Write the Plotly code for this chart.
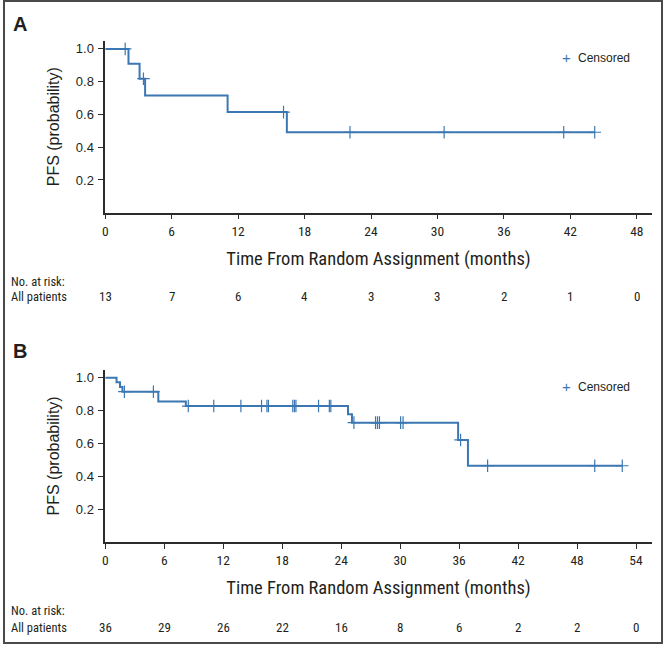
import plotly.graph_objects as go

# ---------------- data ----------------
# Panel A: Kaplan-Meier step vertices (time in months, PFS probability)
a_step_t = [0, 2.1, 3.1, 3.6, 11.05, 16.4, 44.2]
a_step_s = [1.0, 0.909, 0.818, 0.716, 0.614, 0.491, 0.491]
a_cens_t = [1.8, 3.45, 16.1, 22.1, 30.6, 41.4, 44.2]
a_ticks = [0, 6, 12, 18, 24, 30, 36, 42, 48]
a_risk = [13, 7, 6, 4, 3, 3, 2, 1, 0]

# Panel B
b_step_t = [0, 1.15, 1.5, 1.75, 5.4, 8.2, 24.7, 25.1, 35.9, 36.9, 52.6]
b_step_s = [1.0, 0.972, 0.944, 0.915, 0.855, 0.828, 0.778, 0.727, 0.622, 0.465, 0.465]
b_cens_t = [1.95, 4.9, 8.45, 11.04, 13.8, 15.9, 16.45, 16.6, 19.08, 19.25, 19.4,
            21.7, 22.8, 22.95, 25.3, 27.5, 27.7, 27.9, 30.05, 30.3, 36.15,
            38.9, 49.8, 52.6]
b_ticks = [0, 6, 12, 18, 24, 30, 36, 42, 48, 54]
b_risk = [36, 29, 26, 22, 16, 8, 6, 2, 2, 0]

y_ticks = [0.2, 0.4, 0.6, 0.8, 1.0]

# ---------------- style ----------------
W, H = 664, 645
BLUE = "#3b77b2"
DARK = "#231f20"
AXC = "#2b2b2b"
COND = "Liberation Sans Narrow, Roboto Condensed, Arial Narrow, sans-serif"
REG = "Liberation Sans, Arial, Helvetica, sans-serif"


def px(x):
    return x / W


def py(y):
    return 1 - y / H


def surv_at(times, step_t, step_s):
    out = []
    for t in times:
        s = step_s[0]
        for st, ss in zip(step_t, step_s):
            if st <= t:
                s = ss
        out.append(s)
    return out


fig = go.Figure()

for step_t, step_s, cens_t, xa, ya in [
    (a_step_t, a_step_s, a_cens_t, "x", "y"),
    (b_step_t, b_step_s, b_cens_t, "x2", "y2"),
]:
    fig.add_trace(go.Scatter(
        x=step_t, y=step_s, mode="lines", line=dict(color=BLUE, width=2, shape="hv"),
        xaxis=xa, yaxis=ya, showlegend=False, hoverinfo="skip"))
    fig.add_trace(go.Scatter(
        x=cens_t, y=surv_at(cens_t, step_t, step_s), mode="markers",
        marker=dict(symbol="cross-thin", size=9, line=dict(color=BLUE, width=1.2)),
        xaxis=xa, yaxis=ya, showlegend=False, name="Censored"))

xdom = [px(102.7), px(651.7)]


def xaxis_cfg(ticks, rng, dom_anchor):
    return dict(
        domain=xdom, range=rng, tickvals=ticks, ticktext=[str(t) for t in ticks],
        showline=True, linecolor=AXC, linewidth=1.5, ticks="outside", ticklen=5,
        tickwidth=1.2, tickcolor=AXC, showgrid=False, zeroline=False,
        tickfont=dict(family=COND, size=13.5, color=DARK), anchor=dom_anchor,
        title=dict(text="Time From Random Assignment (months)",
                   font=dict(family=COND, size=18.5, color=DARK), standoff=14),
        fixedrange=True)


def yaxis_cfg(dom, anchor):
    return dict(
        domain=dom, range=[0, 1.05], tickvals=y_ticks,
        ticktext=[f"{v:.1f}" for v in y_ticks],
        showline=True, linecolor=AXC, linewidth=1.5, ticks="outside", ticklen=5,
        tickwidth=1.2, tickcolor=AXC, showgrid=False, zeroline=False,
        tickfont=dict(family=REG, size=13, color=DARK), anchor=anchor,
        ticklabelstandoff=2,
        title=dict(text="PFS (probability)", font=dict(family=REG, size=16, color=DARK),
                   standoff=12),
        fixedrange=True)


annotations = []
for lbl, yc in [("A", 23.7), ("B", 351)]:
    annotations.append(dict(text=f"<b>{lbl}</b>", x=px(8), y=py(yc), xref="paper", yref="paper",
                            xanchor="left", yanchor="middle", showarrow=False,
                            font=dict(family=REG, size=20, color=DARK)))

for ticks, risk, xref, y_no, y_all, y_leg in [
    (a_ticks, a_risk, "x", 281.7, 296.7, 57.7),
    (b_ticks, b_risk, "x2", 610, 627, 386.7),
]:
    annotations.append(dict(text="No. at risk:", x=px(6), y=py(y_no), xref="paper", yref="paper",
                            xanchor="left", yanchor="middle", showarrow=False,
                            font=dict(family=COND, size=12.5, color=DARK)))
    annotations.append(dict(text="All patients", x=px(6), y=py(y_all), xref="paper", yref="paper",
                            xanchor="left", yanchor="middle", showarrow=False,
                            font=dict(family=COND, size=12.5, color=DARK)))
    for t, r in zip(ticks, risk):
        annotations.append(dict(text=str(r), x=t, y=py(y_all), xref=xref, yref="paper",
                                xanchor="center", yanchor="middle", showarrow=False,
                                font=dict(family=COND, size=13, color=DARK)))
    # legend for censored marks
    annotations.append(dict(text="+", x=px(566), y=py(y_leg), xref="paper", yref="paper",
                            xanchor="center", yanchor="middle", showarrow=False,
                            font=dict(family=REG, size=15, color=BLUE)))
    annotations.append(dict(text="Censored", x=px(575.5), y=py(y_leg), xref="paper", yref="paper",
                            xanchor="left", yanchor="middle", showarrow=False,
                            font=dict(family=REG, size=12, color=DARK)))

fig.update_layout(
    width=W, height=H, autosize=False,
    margin=dict(l=0, r=0, t=0, b=0),
    paper_bgcolor="white", plot_bgcolor="white",
    xaxis=xaxis_cfg(a_ticks, [0, 49.35], "y"),
    yaxis=yaxis_cfg([py(212.7), py(40.7)], "x"),
    xaxis2=xaxis_cfg(b_ticks, [0, 55.6], "y2"),
    yaxis2=yaxis_cfg([py(542.3), py(369.5)], "x2"),
    annotations=annotations,
    shapes=[dict(type="rect", xref="paper", yref="paper",
                 x0=px(1), x1=px(662), y0=py(643), y1=py(1),
                 line=dict(color="#4a4a4a", width=2), fillcolor="rgba(0,0,0,0)")],
    showlegend=False,
)

fig.write_html(
    "out.html",
    config={"displayModeBar": False},
    post_script="document.body.style.margin='0';document.body.style.overflow='hidden';",
)
